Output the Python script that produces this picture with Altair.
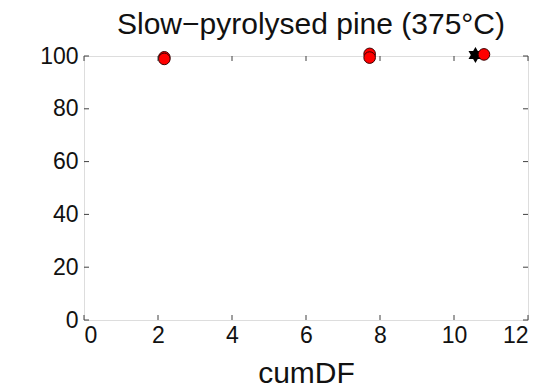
import altair as alt
import pandas as pd

# data
circle_x = [2.17, 2.17, 7.72, 7.72, 10.81]
circle_y = [99.5, 98.9, 100.8, 99.4, 100.6]
star_x = [10.58]
star_y = [100.4]
x_ticks = [0, 2, 4, 6, 8, 10, 12]
y_ticks = [0, 20, 40, 60, 80, 100]

W, H = 444, 264
AX = "#404040"
FONT = "Liberation Sans"

circles = pd.DataFrame({"x": circle_x, "y": circle_y})
stars = pd.DataFrame({"x": star_x, "y": star_y})
xt = pd.DataFrame({"t": x_ticks})
yt = pd.DataFrame({"t": y_ticks})

xscale = alt.Scale(domain=[0, 12], nice=False, zero=False)
yscale = alt.Scale(domain=[0, 100], nice=False, zero=False)

xaxis = alt.Axis(values=x_ticks, ticks=False, grid=False, domain=False,
                 labelFontSize=23, labelPadding=4, labelColor="#111",
                 title="cumDF", titleFontSize=30, titleFontWeight="normal",
                 titlePadding=11, titleColor="#111", labelFont=FONT, titleFont=FONT)
yaxis = alt.Axis(values=y_ticks, ticks=False, grid=False, domain=False,
                 labelFontSize=23, labelPadding=6, labelColor="#111",
                 title=None, labelFont=FONT)

hexagram = ("M0,-1 L0.289,-0.5 L0.866,-0.5 L0.577,0 L0.866,0.5 L0.289,0.5 "
            "L0,1 L-0.289,0.5 L-0.866,0.5 L-0.577,0 L-0.866,-0.5 L-0.289,-0.5 Z")

star_layer = alt.Chart(stars).mark_point(
    shape=hexagram, filled=True, color="black", size=260, opacity=1
).encode(
    x=alt.X("x:Q", scale=xscale, axis=xaxis),
    y=alt.Y("y:Q", scale=yscale, axis=yaxis),
)

circle_layer = alt.Chart(circles).mark_point(
    shape="circle", filled=True, fill="#ff0000", stroke="#3a0000",
    strokeWidth=1, size=135, opacity=1
).encode(
    x=alt.X("x:Q", scale=xscale),
    y=alt.Y("y:Q", scale=yscale),
)

tick_len = 5
xt_bottom = alt.Chart(xt).mark_rule(color=AX, strokeWidth=1).encode(
    x=alt.X("t:Q", scale=xscale), y=alt.value(H), y2=alt.value(H - tick_len))
xt_top = alt.Chart(xt).mark_rule(color=AX, strokeWidth=1).encode(
    x=alt.X("t:Q", scale=xscale), y=alt.value(0), y2=alt.value(tick_len))
yt_left = alt.Chart(yt).mark_rule(color=AX, strokeWidth=1).encode(
    y=alt.Y("t:Q", scale=yscale), x=alt.value(0), x2=alt.value(tick_len))
yt_right = alt.Chart(yt).mark_rule(color=AX, strokeWidth=1).encode(
    y=alt.Y("t:Q", scale=yscale), x=alt.value(W), x2=alt.value(W - tick_len))

chart = alt.layer(
    star_layer, circle_layer, xt_bottom, xt_top, yt_left, yt_right
).properties(
    width=W, height=H,
    title=alt.TitleParams("Slow\u2212pyrolysed pine (375\u00b0C)", fontSize=30,
                          fontWeight="normal", font=FONT, color="#111",
                          anchor="middle", offset=5, dx=5),
    autosize=alt.AutoSizeParams(type="none"),
    padding={"left": 84, "top": 56, "right": 20, "bottom": 69},
).configure_view(
    stroke=AX, strokeWidth=1.3
).configure(background="white")

chart.save("out.html", embed_options={"renderer": "svg", "actions": False})
